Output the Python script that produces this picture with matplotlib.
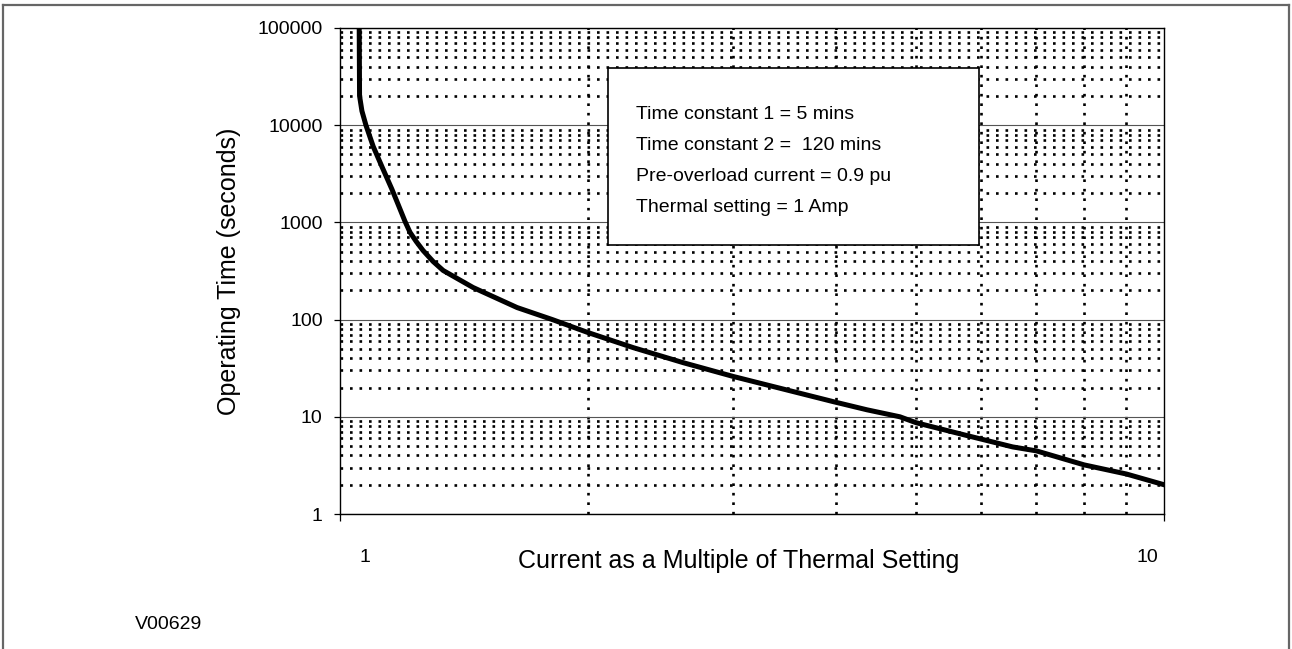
"""Thermal overload operating curve (dual time constant), log-log chart."""

import matplotlib.pyplot as plt
from matplotlib.lines import Line2D
from matplotlib.patches import Rectangle
from matplotlib.transforms import ScaledTranslation


plt.rcParams["font.family"] = ["Liberation Sans", "DejaVu Sans"]

# curve
CURRENT = [1.055, 1.056, 1.063, 1.075, 1.097, 1.125, 1.156, 1.176, 1.199,
           1.216, 1.237, 1.261, 1.297, 1.334, 1.45, 1.64, 1.81, 2.0, 2.27,
           2.61, 3.0, 3.97, 4.36, 4.78, 5.0, 5.77, 6.55, 7.0, 8.0, 9.0, 10.0]
TIME = [100000, 20000, 14000, 10000, 6050, 3690, 2190, 1534, 1024,
        789, 637, 514, 396, 320, 214, 133, 100, 73.5, 51.4,
        36, 26, 14.3, 11.8, 10, 8.7, 6.4, 4.9, 4.46, 3.2, 2.58, 2.0]

Y_TICKS = [1, 10, 100, 1000, 10000, 100000]
Y_TICK_LABELS = ["1", "10", "100", "1000", "10000", "100000"]
X_TICKS = [1, 10]
X_TICK_LABELS = ["1", "10"]
X_MINOR = [2, 3, 4, 5, 6, 7, 8, 9]
Y_MINOR = [m * 10 ** d for d in range(5) for m in range(2, 10)]

NOTES = [
    "Time constant 1 = 5 mins",
    "Time constant 2 =  120 mins",
    "Pre-overload current = 0.9 pu",
    "Thermal setting = 1 Amp",
]

DOTS = (0, (1, 2.6))
FRAME = "#666666"


def main() -> None:
    fig = plt.figure(figsize=(12.92, 6.49), dpi=100)
    ax = fig.add_axes([0.2632, 0.2080, 0.6378, 0.7489])
    ax.set_xscale("log")
    ax.set_yscale("log")
    ax.set_xlim(1, 10)
    ax.set_ylim(1, 100000)

    # grid: solid decades on y, dotted sub-decades on both axes
    ax.set_yticks(Y_TICKS, Y_TICK_LABELS, fontsize=14)
    ax.set_xticks(X_TICKS, X_TICK_LABELS, fontsize=14)
    ax.set_xticks(X_MINOR, minor=True)
    ax.set_yticks(Y_MINOR, minor=True)
    ax.xaxis.set_minor_formatter(plt.NullFormatter())
    ax.yaxis.set_minor_formatter(plt.NullFormatter())
    ax.tick_params(which="minor", length=0)
    ax.tick_params(axis="y", which="major", length=4.5, width=0.9, pad=8)
    ax.tick_params(axis="x", which="major", length=5, width=0.9, pad=20)
    ax.grid(axis="y", which="major", color="#555555", linewidth=0.8)
    ax.grid(which="minor", color="black", linewidth=1.9, linestyle=DOTS)
    ax.set_axisbelow(True)
    for spine in ax.spines.values():
        spine.set_linewidth(1.0)
        spine.set_color("black")

    # Excel put the x labels a little inside the axis ends
    for label, dx in zip(ax.get_xticklabels(), [0.25, -0.17]):
        label.set_transform(label.get_transform()
                            + ScaledTranslation(dx, 0, fig.dpi_scale_trans))

    ax.plot(CURRENT, TIME, color="black", linewidth=3.6,
            solid_joinstyle="round", zorder=3)

    ax.set_xlabel("Current as a Multiple of Thermal Setting", fontsize=18)
    ax.xaxis.set_label_coords(0.484, -0.072)
    ax.set_ylabel("Operating Time (seconds)", fontsize=18)
    ax.yaxis.set_label_coords(-0.12, 0.5)

    # note box
    ax.add_patch(Rectangle((0.3252, 0.5535), 0.4503, 0.3642,
                           transform=ax.transAxes, facecolor="white",
                           edgecolor="black", linewidth=1.2, zorder=4))
    for i, line in enumerate(NOTES):
        ax.text(0.3592, 0.821 - i * 0.0638, line, transform=ax.transAxes,
                fontsize=14, va="center", ha="left", zorder=5)

    fig.text(0.1045, 0.037, "V00629", fontsize=14, va="center", ha="left")

    # outer frame of the figure (top, left, right)
    for xs, ys in [([0.0023, 0.998], [0.992, 0.992]),
                   ([0.0023, 0.0023], [0.0, 0.992]),
                   ([0.998, 0.998], [0.0, 0.992])]:
        fig.add_artist(Line2D(xs, ys, transform=fig.transFigure,
                              color=FRAME, linewidth=1.6))

    fig.savefig("out.png", dpi=100)
    plt.close(fig)


if __name__ == "__main__":
    main()
